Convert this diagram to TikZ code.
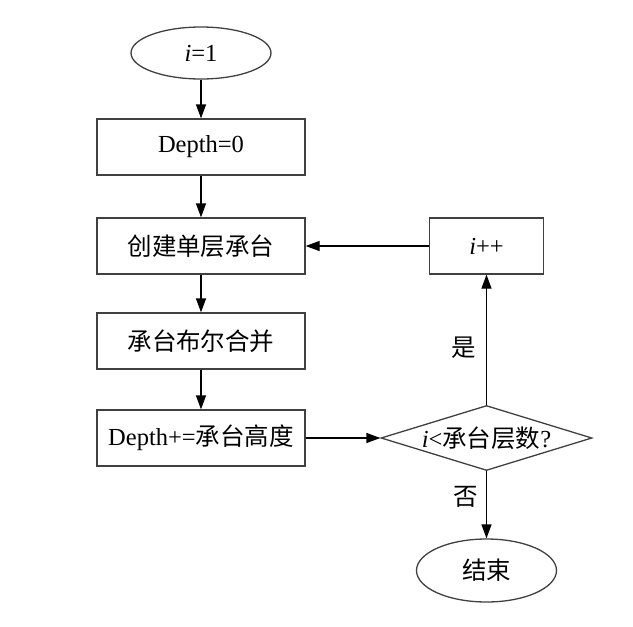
\documentclass[tikz,border=0pt]{standalone}
\usepackage{fontspec}
\setmainfont{Liberation Serif}
\newfontfamily\cjk{Noto Sans CJK SC}
\usetikzlibrary{shapes.geometric,arrows.meta}
\begin{document}
\begin{tikzpicture}[x=1pt,y=-1pt,
  font=\fontsize{24.5}{28}\selectfont,
  box/.style={draw=black!75, line width=1.3pt, rectangle, inner sep=0pt, minimum width=208pt, minimum height=56pt},
  smallbox/.style={draw=black!75, line width=1.3pt, rectangle, inner sep=0pt, minimum width=114pt, minimum height=56pt},
  term/.style={draw=black!75, line width=1.3pt, ellipse, inner sep=0pt, minimum width=140pt},
  decide/.style={draw=black!75, line width=1.3pt, diamond, inner sep=0pt, aspect=3.25, minimum width=211pt, minimum height=65pt},
  flow/.style={draw=black, line width=1.3pt, -{Triangle[length=14pt,width=10pt]}},
  lbl/.style={inner sep=0pt}
]
\useasboundingbox (0,0) rectangle (633,627);
\node[term, minimum height=52pt] (start) at (201,53) {\textit{i}=1};
\node[box] (d0) at (201,147) {Depth=0};
\node[box] (create) at (201,246) {\cjk 创建单层承台};
\node[box] (bool) at (201,341) {\cjk 承台布尔合并};
\node[box] (depth) at (201,438) {Depth+={\cjk 承台高度}};
\node[decide] (cond) at (486.5,438) {\textit{i}<{\cjk 承台层数}?};
\node[smallbox] (inc) at (486.5,246) {\textit{i}++};
\node[term, minimum height=63pt] (end) at (486.5,570.5) {\cjk 结束};
\draw[flow] (start) -- (d0);
\draw[flow] (d0) -- (create);
\draw[flow] (create) -- (bool);
\draw[flow] (bool) -- (depth);
\draw[flow] (depth.east) -- (cond.west);
\draw[flow] (cond.north) -- (inc.south);
\draw[flow] (inc.west) -- (create.east);
\draw[flow] (cond.south) -- (end.north);
\node[lbl] (yes) at (464,348) {\cjk 是};
\node[lbl] (no) at (466,497) {\cjk 否};
\end{tikzpicture}
\end{document}
